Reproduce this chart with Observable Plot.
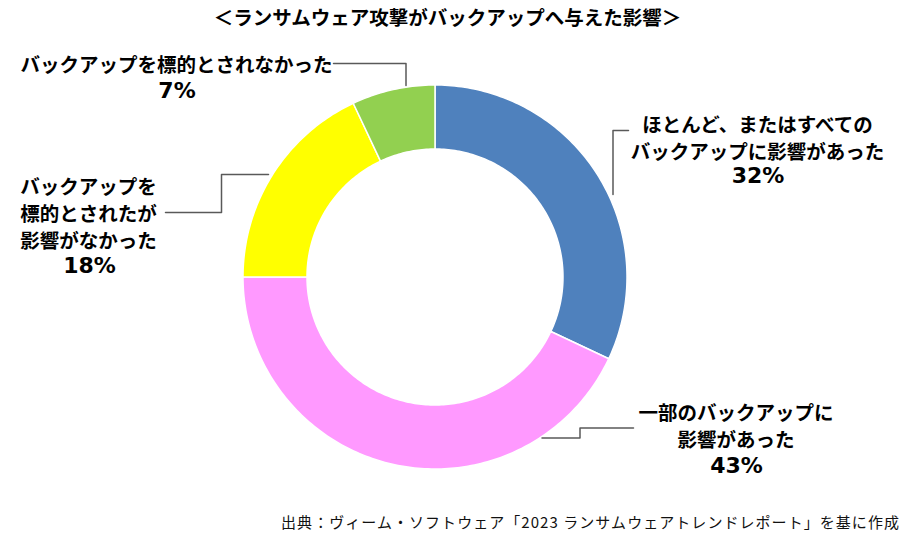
<!DOCTYPE html>
<html>
<head>
<meta charset="utf-8">
<script src="https://cdn.jsdelivr.net/npm/d3@7"></script>
<script src="https://cdn.jsdelivr.net/npm/@observablehq/plot@0.6"></script>
<style>
  html, body { margin: 0; padding: 0; background: #fff; }
  body { width: 900px; height: 537px; overflow: hidden; font-family: "Noto Sans CJK JP", "Noto Sans", sans-serif; }
  #title { height: 34px; line-height: 34px; font-size: 19.5px; font-weight: bold; text-align: center; color: #000; padding-right: 5px; box-sizing: border-box; white-space: nowrap; }
  #chart { height: 470px; }
  #chart svg { display: block; }
  #caption { height: 33px; line-height: 36px; font-size: 15px; letter-spacing: 1.05px; text-align: right; color: #111; padding-right: 0px; white-space: nowrap; }
</style>
</head>
<body>
<div id="title">＜ランサムウェア攻撃がバックアップへ与えた影響＞</div>
<div id="chart"></div>
<div id="caption">出典：ヴィーム・ソフトウェア「2023 ランサムウェアトレンドレポート」を基に作成</div>
<script>
// ---- data ----
const categories = [
  "ほとんど、またはすべての\nバックアップに影響があった",
  "一部のバックアップに\n影響があった",
  "バックアップを\n標的とされたが\n影響がなかった",
  "バックアップを標的とされなかった"
];
const values = [32, 43, 18, 7];
const colors = ["#4F81BD", "#FF99FF", "#FFFF00", "#92D050"];

// ---- layout (page pixel coordinates) ----
const W = 900, TOP = 34, H = 470;
const center = [434.5, 276.5];
const outerR = 192, innerR = 128;
const labelPos = [[757, 136], [735.5, 424], [88, 211.5], [176, 63]];
const pctPos = [[757.5, 175], [736, 465], [89, 265], [176.5, 90]];
const leaders = [
  [[628, 130], [612.5, 130], [612.5, 194]],
  [[541.5, 437.5], [579.5, 437.5], [579.5, 427.5], [633, 427.5]],
  [[268, 174], [221, 174], [221, 212], [165, 212]],
  [[405.5, 85], [405.5, 63], [333, 63]]
];

// ---- build slice polygons from values ----
const total = d3.sum(values);
const slices = [];
let acc = 0;
values.forEach((v, i) => {
  const a0 = acc / total * 2 * Math.PI;
  acc += v;
  const a1 = acc / total * 2 * Math.PI;
  const n = Math.max(8, Math.ceil((a1 - a0) / (Math.PI / 180)));
  const pts = [];
  for (let k = 0; k <= n; k++) {
    const a = a0 + (a1 - a0) * k / n;
    pts.push([center[0] + outerR * Math.sin(a), center[1] - outerR * Math.cos(a)]);
  }
  for (let k = n; k >= 0; k--) {
    const a = a0 + (a1 - a0) * k / n;
    pts.push([center[0] + innerR * Math.sin(a), center[1] - innerR * Math.cos(a)]);
  }
  pts.push(pts[0]);
  pts.forEach(([x, y]) => slices.push({key: categories[i], x, y}));
});

const leaderRows = [];
leaders.forEach((pts, i) => pts.forEach(([x, y]) => leaderRows.push({key: i, x, y})));

const labels = categories.map((c, i) => ({text: c, x: labelPos[i][0], y: labelPos[i][1]}));
const pcts = values.map((v, i) => ({text: `${v}%`, x: pctPos[i][0], y: pctPos[i][1]}));

const chart = Plot.plot({
  width: W,
  height: H,
  margin: 0,
  style: {fontFamily: "'Noto Sans CJK JP', 'Noto Sans', sans-serif", background: "#fff"},
  x: {domain: [0, W], range: [0, W], axis: null},
  y: {domain: [TOP, TOP + H], range: [0, H], axis: null},
  color: {domain: categories, range: colors},
  marks: [
    Plot.line(slices, {x: "x", y: "y", z: "key", fill: "key", stroke: "white", strokeWidth: 1.5, curve: "linear"}),
    Plot.line(leaderRows, {x: "x", y: "y", z: "key", stroke: "#595959", strokeWidth: 1.5, curve: "linear"}),
    Plot.text(labels, {x: "x", y: "y", text: "text", fontSize: 19.5, fontWeight: "bold", fill: "#000", lineHeight: 1.38, textAnchor: "middle", lineAnchor: "middle"}),
    Plot.text(pcts, {x: "x", y: "y", text: "text", fontSize: 22, fontWeight: "bold", fontFamily: "DejaVu Sans", fill: "#000", textAnchor: "middle", lineAnchor: "middle", ariaLabel: "pct"})
  ]
});
d3.select(chart).selectAll('g[aria-label="pct"] text').style("letter-spacing", "1.5px");
document.getElementById("chart").appendChild(chart);
</script>
</body>
</html>
